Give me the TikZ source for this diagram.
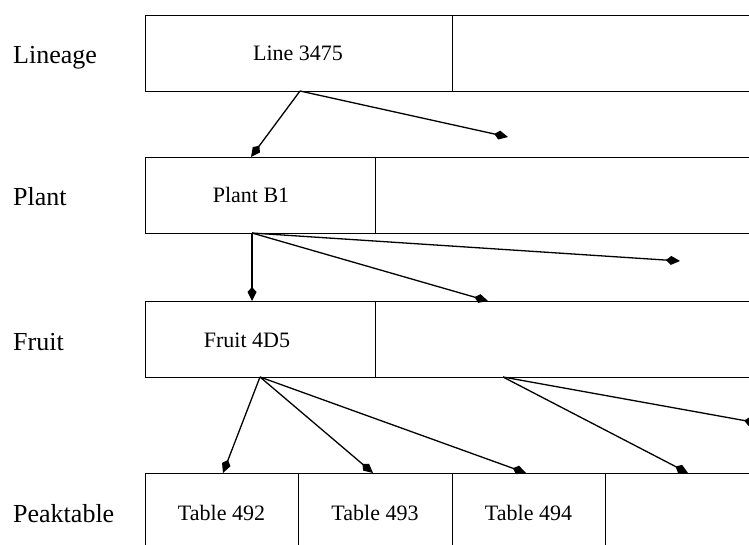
\documentclass[tikz,border=0pt]{standalone}
\usepackage{fontspec}
\setmainfont{Liberation Serif}
\usetikzlibrary{arrows.meta}
\begin{document}
\begin{tikzpicture}[x=1pt,y=-1pt,
 cell/.style={draw, line width=1.3pt, rectangle, inner sep=0pt, anchor=north west},
 lbl/.style={anchor=base west, inner sep=0pt, font=\fontsize{26}{30}\selectfont},
 txt/.style={anchor=base, inner sep=0pt, font=\fontsize{22}{26}\selectfont},
 link/.style={line width=1.3pt, -{Kite[length=14pt,width=9pt,inset=5pt]}}]
\useasboundingbox (0,0) rectangle (749,545);
\clip (0,0) rectangle (749,545);
% row labels
\node[lbl] (labL) at (13,64) {Lineage};
\node[lbl] (labP) at (13,206) {Plant};
\node[lbl] (labF) at (13,350) {Fruit};
\node[lbl] (labT) at (13,522) {Peaktable};
% cells
\node[cell, minimum width=307pt, minimum height=76pt] (lin1) at (145,15) {};
\node[cell, minimum width=330pt, minimum height=76pt] (lin2) at (452,15) {};
\node[cell, minimum width=230pt, minimum height=76pt] (pl1) at (145,157) {};
\node[cell, minimum width=400pt, minimum height=76pt] (pl2) at (375,157) {};
\node[cell, minimum width=230pt, minimum height=76pt] (fr1) at (145,301) {};
\node[cell, minimum width=400pt, minimum height=76pt] (fr2) at (375,301) {};
\node[cell, minimum width=153pt, minimum height=95pt] (pk1) at (145,473) {};
\node[cell, minimum width=154pt, minimum height=95pt] (pk2) at (298,473) {};
\node[cell, minimum width=153pt, minimum height=95pt] (pk3) at (452,473) {};
\node[cell, minimum width=200pt, minimum height=95pt] (pk4) at (605,473) {};
% cell texts
\node[txt] (tL) at (298,61) {Line 3475};
\node[txt] (tP) at (251,203) {Plant B1};
\node[txt] (tF) at (247,347) {Fruit 4D5};
\node[txt] (t492) at (221.5,520) {Table 492};
\node[txt] (t493) at (375,520) {Table 493};
\node[txt] (t494) at (528.5,520) {Table 494};
% connector ends
\coordinate (ls) at (300,91);
\coordinate (le1) at (251,157);
\coordinate (le2) at (508,137);
\coordinate (ps) at (252,233);
\coordinate (pe1) at (252,301);
\coordinate (pe2) at (488,301);
\coordinate (pe3) at (680,261);
\coordinate (fs1) at (260,377);
\coordinate (fe1) at (223,473);
\coordinate (fe2) at (373,473);
\coordinate (fe3) at (526,473);
\coordinate (fs2) at (503,377);
\coordinate (fe4) at (688,473);
\coordinate (fe5) at (758,423);
% connectors
\draw[link] (ls) -- (le1);
\draw[link] (ls) -- (le2);
\draw[link] (ps) -- (pe1);
\draw[link] (ps) -- (pe2);
\draw[link] (ps) -- (pe3);
\draw[link] (fs1) -- (fe1);
\draw[link] (fs1) -- (fe2);
\draw[link] (fs1) -- (fe3);
\draw[link] (fs2) -- (fe4);
\draw[link] (fs2) -- (fe5);
\end{tikzpicture}
\end{document}
